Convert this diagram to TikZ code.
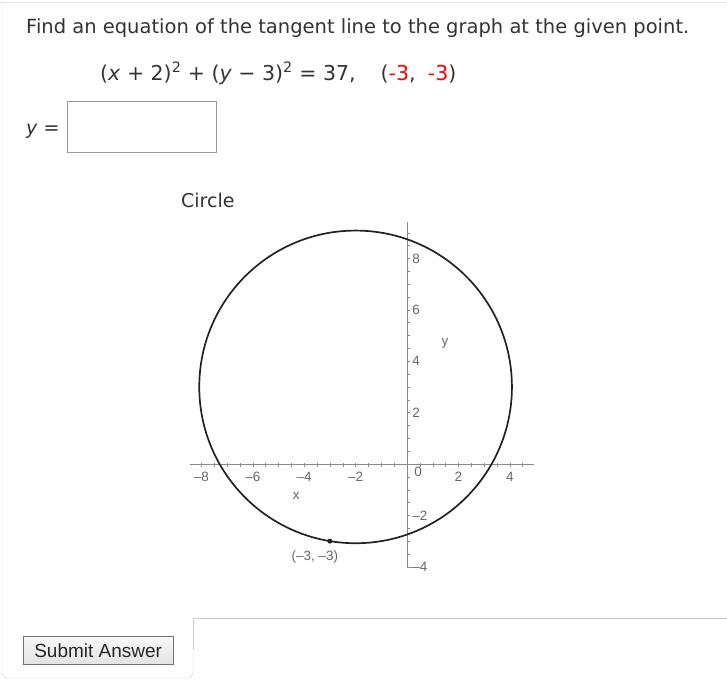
\documentclass[tikz,border=0pt]{standalone}
\usepackage{fontspec}
\setmainfont{DejaVu Sans}
\newfontfamily\arialfont{Liberation Sans}
\usepackage{xcolor}
\usepackage{tikz}
\definecolor{txt}{HTML}{333333}
\definecolor{panel}{HTML}{CCCCCC}
\definecolor{axisgray}{HTML}{8A8A8A}
\definecolor{labgray}{HTML}{666666}
\definecolor{curve}{HTML}{222222}
\definecolor{ansred}{HTML}{FF0000}

\begin{document}
\begin{tikzpicture}[x=1pt,y=-1pt,font=\fontsize{19}{23}\selectfont,text=txt]
\useasboundingbox (0,0) rectangle (727,688);
%frame of the question
\draw[panel!50](0,2)--(727,2);
\draw[panel,rounded corners=5](2,2)--(2,678)--(193,678)--(193,650);
\draw[panel](193,650)--(193,618)--(727,618);

\node[anchor=base west,inner sep=0,font=\fontsize{19.5}{23}\selectfont](title) at(26,33){Find an equation of the tangent line to the graph at the given point.};
\node[anchor=base west,inner sep=0,font=\fontsize{20.5}{24}\selectfont](eq) at(100,80){(\textit{x} + 2)\textsuperscript{2} + (\textit{y} − 3)\textsuperscript{2} = 37,\hspace{25pt}(\textcolor{ansred}{-3},\hspace{0.6em}\textcolor{ansred}{-3})};
\node[anchor=base west,inner sep=0](yis) at(26,134){\textit{y} =};
\node[draw=gray!80,anchor=north west,inner sep=0,minimum width=149pt,minimum height=51pt](answer) at(66.5,100.5){};
\node[anchor=base west,inner sep=0](caption) at(181,207){Circle};

%the graph
\begin{scope}[shift={(407,464)},x=25.7pt,y=25.7pt,font=\arialfont\fontsize{13.5}{15}\selectfont,text=labgray]
\draw[axisgray](-8.45,0)--(4.95,0);
\draw[axisgray](0,-4.05)--(0,9.43);
\foreach\t in{-8,-7.5,...,4.5}{\draw[axisgray](\t,0.04)--(\t,-0.1);};
\foreach\t in{-4,-3.5,...,9}{\draw[axisgray](0,\t)--(0.1,\t);};
\draw[axisgray](0,-4)--(0.2,-4);
\foreach\t/\l in{-8/–8,-6/–6,-4/–4,-2/–2,2/2,4/4}{\node(xt\t) at(\t,-0.49){\l};};
\node(xt0) at(0.43,-0.3){0};
\foreach\t/\l in{-4/–4,-2/–2,2/2,4/4,6/6,8/8}{\node[anchor=west,inner sep=0](yt\t) at(0.2,\t){\l};};
\node(xlab) at(-4.31,-1.25){x};
\node(ylab) at(1.48,4.71){y};
\draw[curve,line width=1.7pt](-2,3)circle({sqrt(37)});
\coordinate(pt) at(-3,-3);
\fill[curve](pt)circle(2.5pt);
\node(ptlab) at(-3.58,-3.62){(–3, –3)};
\end{scope}

\node[draw=black!55,top color=gray!5,bottom color=gray!22,anchor=north west,inner sep=0,minimum width=150pt,minimum height=28pt,text=black!85,font=\arialfont\fontsize{19}{21}\selectfont](submit) at(23,636){Submit Answer};
\end{tikzpicture}
\end{document}
